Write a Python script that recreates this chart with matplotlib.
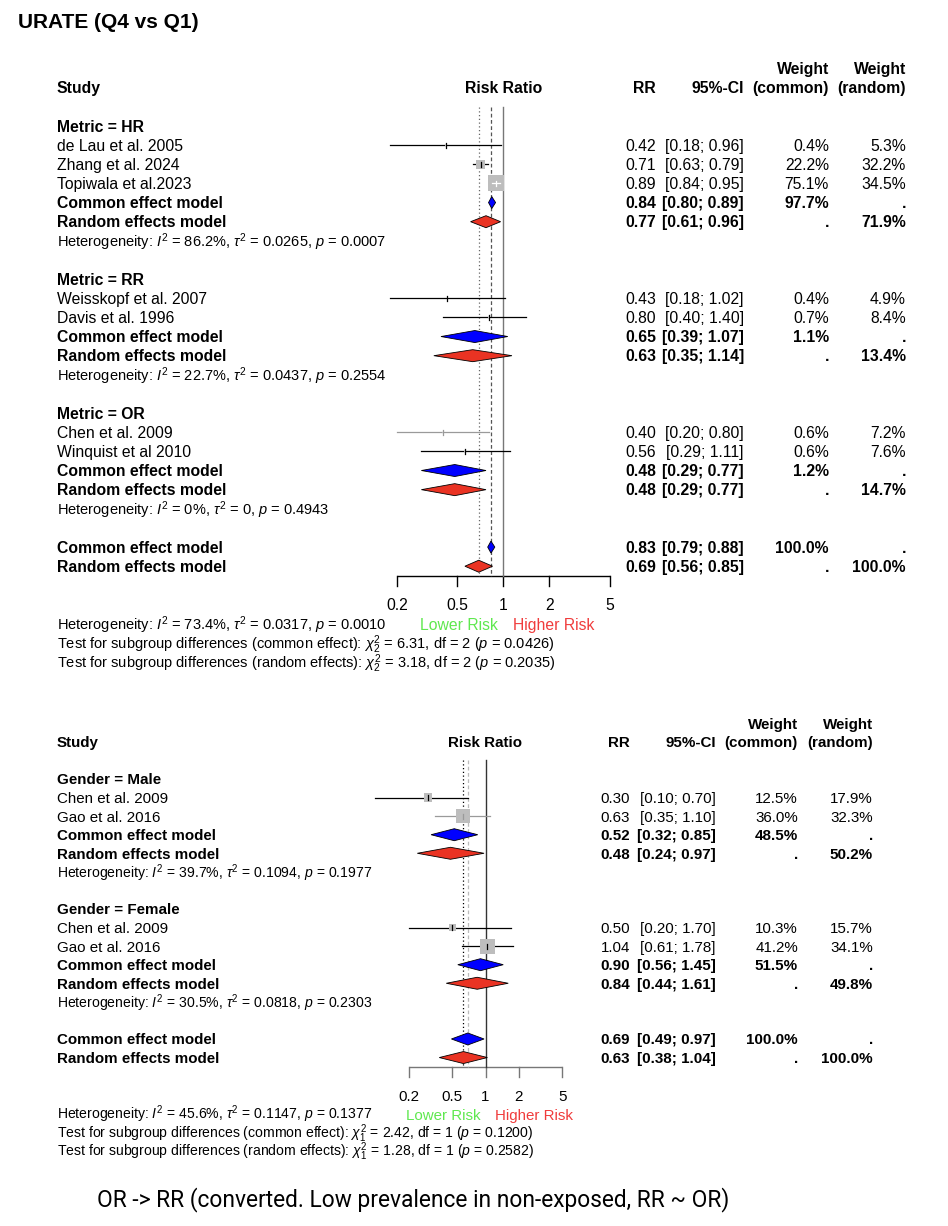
import matplotlib
matplotlib.use("Agg")
import matplotlib.pyplot as plt
import numpy as np
from matplotlib import font_manager as fm
from matplotlib.patches import Polygon, Rectangle

# ---------------- data: top panel (URATE Q4 vs Q1) ----------------
top_groups = ["Metric = HR", "Metric = RR", "Metric = OR"]
top_studies = [["de Lau et al. 2005", "Zhang et al. 2024", "Topiwala et al.2023"],
               ["Weisskopf et al. 2007", "Davis et al. 1996"],
               ["Chen et al. 2009", "Winquist et al 2010"]]
top_rr = [[0.42, 0.71, 0.89], [0.43, 0.80], [0.40, 0.56]]
top_lo = [[0.18, 0.63, 0.84], [0.18, 0.40], [0.20, 0.29]]
top_hi = [[0.96, 0.79, 0.95], [1.02, 1.40], [0.80, 1.11]]
top_wc = [[0.4, 22.2, 75.1], [0.4, 0.7], [0.6, 0.6]]
top_wr = [[5.3, 32.2, 34.5], [4.9, 8.4], [7.2, 7.6]]
top_ce_est = [0.84, 0.65, 0.48]
top_ce_lo = [0.80, 0.39, 0.29]
top_ce_hi = [0.89, 1.07, 0.77]
top_ce_w = [97.7, 1.1, 1.2]
top_re_est = [0.77, 0.63, 0.48]
top_re_lo = [0.61, 0.35, 0.29]
top_re_hi = [0.96, 1.14, 0.77]
top_re_w = [71.9, 13.4, 14.7]
top_het_i2 = ["86.2%", "22.7%", "0%"]
top_het_tau2 = ["0.0265", "0.0437", "0"]
top_het_p = ["0.0007", "0.2554", "0.4943"]
top_all_ce = [0.83, 0.79, 0.88]
top_all_re = [0.69, 0.56, 0.85]
top_all_het = ["73.4%", "0.0317", "0.0010"]
top_test_ce = ["6.31", "2", "0.0426"]
top_test_re = ["3.18", "2", "0.2035"]
top_line_colors = [["black", "black", "black"], ["black", "black"], ["#9a9a9a", "black"]]

# ---------------- data: bottom panel (by gender) ----------------
bot_groups = ["Gender = Male", "Gender = Female"]
bot_studies = [["Chen et al. 2009", "Gao et al. 2016"], ["Chen et al. 2009", "Gao et al. 2016"]]
bot_rr = [[0.30, 0.63], [0.50, 1.04]]
bot_lo = [[0.10, 0.35], [0.20, 0.61]]
bot_hi = [[0.70, 1.10], [1.70, 1.78]]
bot_wc = [[12.5, 36.0], [10.3, 41.2]]
bot_wr = [[17.9, 32.3], [15.7, 34.1]]
bot_ce_est = [0.52, 0.90]
bot_ce_lo = [0.32, 0.56]
bot_ce_hi = [0.85, 1.45]
bot_ce_w = [48.5, 51.5]
bot_re_est = [0.48, 0.84]
bot_re_lo = [0.24, 0.44]
bot_re_hi = [0.97, 1.61]
bot_re_w = [50.2, 49.8]
bot_het_i2 = ["39.7%", "30.5%"]
bot_het_tau2 = ["0.1094", "0.0818"]
bot_het_p = ["0.1977", "0.2303"]
bot_all_ce = [0.69, 0.49, 0.97]
bot_all_re = [0.63, 0.38, 1.04]
bot_all_het = ["45.6%", "0.1147", "0.1377"]
bot_test_ce = ["2.42", "1", "0.1200"]
bot_test_re = ["1.28", "1", "0.2582"]
bot_line_colors = [["black", "#9a9a9a"], ["black", "black"]]

tick_values = [0.2, 0.5, 1, 2, 5]
tick_labels = ["0.2", "0.5", "1", "2", "5"]

title_text = "URATE (Q4 vs Q1)"
footer_text = "OR -> RR (converted. Low prevalence in non-exposed, RR ~ OR)"

# ---------------- setup ----------------
W, H, DPI = 948, 1226, 100
plt.rcParams['font.family'] = ['Liberation Sans', 'DejaVu Sans']
plt.rcParams['mathtext.fontset'] = 'custom'
plt.rcParams['mathtext.rm'] = 'Liberation Sans'
plt.rcParams['mathtext.it'] = 'Liberation Sans:italic'
plt.rcParams['mathtext.bf'] = 'Liberation Sans:bold'

avail = {f.name for f in fm.fontManager.ttflist}
footer_family = 'Roboto' if 'Roboto' in avail else 'Liberation Sans'

fig = plt.figure(figsize=(W / DPI, H / DPI), dpi=DPI)
fig.patch.set_facecolor('white')
bg = fig.add_axes([0, 0, 1, 1])
bg.set_xlim(0, W)
bg.set_ylim(H, 0)
bg.axis('off')

SQ_COL = '#bdbdbd'
BLUE = '#0000ff'
RED = '#ea3323'


def put(x, y, s, fs, ha='left', bold=False, color='black', family=None):
    px = fs * DPI / 72.0
    kw = {}
    if family:
        kw['family'] = family
    bg.text(x, y + 0.36 * px, s, fontsize=fs, ha=ha, va='baseline',
            fontweight='bold' if bold else 'normal', color=color, **kw)


def forest(groups, studies, rr, lo, hi, wc, wr,
           ce_est, ce_lo, ce_hi, ce_w, re_est, re_lo, re_hi, re_w,
           het_i2, het_tau2, het_p, all_ce, all_re, all_het, test_ce, test_re,
           line_colors, cfg):
    ref_x, ppd, y0, step = cfg['ref_x'], cfg['ppd'], cfg['y0'], cfg['step']
    fs, hfs = cfg['fs'], cfg['hfs']
    cx = cfg['cols']

    def Y(k):
        return y0 + k * step

    rows = []
    k = 0
    for gi in range(len(groups)):
        rows.append(('group', k, gi))
        k += 1
        for si in range(len(studies[gi])):
            rows.append(('study', k, gi, si))
            k += 1
        rows.append(('ce', k, gi)); k += 1
        rows.append(('re', k, gi)); k += 1
        rows.append(('het', k, gi)); k += 1
        k += 1
    k_all_ce = k
    k_all_re = k + 1
    k_axis = k + 1.5
    k_het = k + 4

    xmin, xmax = tick_values[0], tick_values[-1]
    left_px = ref_x + ppd * np.log10(xmin)
    right_px = ref_x + ppd * np.log10(xmax)
    top_px = Y(-1)
    axis_px = Y(k_axis)
    ax = fig.add_axes([left_px / W, 1 - axis_px / H, (right_px - left_px) / W,
                       (axis_px - top_px) / H])
    ax.set_xscale('log')
    ax.set_xlim(xmin, xmax)
    ax.set_ylim(axis_px, top_px)
    ax.axis('off')

    def fac(px):
        return 10 ** (px / ppd)

    # x axis: line, ticks, labels
    ax.plot([xmin, xmax], [axis_px, axis_px], color=cfg['axis_color'], lw=1.0,
            clip_on=False, zorder=1, solid_capstyle='butt')
    for t, lab in zip(tick_values, tick_labels):
        ax.plot([t, t], [axis_px, axis_px + 10], color=cfg['axis_color'], lw=1.0,
                clip_on=False, zorder=1)
        ax.text(t, axis_px + 30, lab, fontsize=fs, ha='center', va='center',
                clip_on=False)

    ax.plot([1, 1], [top_px, axis_px], color=cfg['ref_color'], lw=1.0, clip_on=False, zorder=1)
    ax.plot([all_re[0]] * 2, [top_px, axis_px], color=cfg['re_line'], lw=0.9,
            ls=(0, (1, 2)), clip_on=False, zorder=1)
    ax.plot([all_ce[0]] * 2, [top_px, axis_px], color=cfg['ce_line'], lw=0.9,
            ls=(0, (3, 2)), clip_on=False, zorder=1)

    def diamond(est, l, h, y, col):
        hh = cfg['dh']
        poly = Polygon([(l, y), (est, y - hh), (h, y), (est, y + hh)], closed=True,
                       facecolor=col, edgecolor='black', lw=0.6, clip_on=False, zorder=4)
        ax.add_patch(poly)

    def fmt_ci(l, h):
        return f"[{l:.2f}; {h:.2f}]"

    put(cx[0], Y(-2), "Study", fs, bold=True)
    put(ref_x, Y(-2), "Risk Ratio", fs, ha='center', bold=True)
    put(cx[1], Y(-2), "RR", fs, ha='right', bold=True)
    put(cx[2], Y(-2), "95%-CI", fs, ha='right', bold=True)
    put(cx[3], Y(-3), "Weight", fs, ha='right', bold=True)
    put(cx[3], Y(-2), "(common)", fs, ha='right', bold=True)
    put(cx[4], Y(-3), "Weight", fs, ha='right', bold=True)
    put(cx[4], Y(-2), "(random)", fs, ha='right', bold=True)

    for r in rows:
        kind, kk, gi = r[0], r[1], r[2]
        y = Y(kk)
        if kind == 'group':
            put(cx[0], y, groups[gi], fs, bold=True)
        elif kind == 'study':
            si = r[3]
            v, l, h = rr[gi][si], lo[gi][si], hi[gi][si]
            side = cfg['sq_scale'] * np.sqrt(wc[gi][si])
            lc = line_colors[gi][si]
            l_px = ref_x + ppd * np.log10(l)
            h_px = ref_x + ppd * np.log10(h)
            v_px = ref_x + ppd * np.log10(v)
            inside = (l_px >= v_px - side / 2) and (h_px <= v_px + side / 2)
            ax.plot([l, h], [y, y], color=lc, lw=0.9, clip_on=False, zorder=2)
            ax.add_patch(Rectangle((v / fac(side / 2), y - side / 2),
                                   v * fac(side / 2) - v / fac(side / 2),
                                   side, facecolor=SQ_COL, edgecolor='none', clip_on=False, zorder=3))
            ic = 'white' if inside else lc
            if inside:
                ax.plot([l, h], [y, y], color='white', lw=0.9, clip_on=False, zorder=3.5)
            ax.plot([v, v], [y - 2.5, y + 2.5], color=ic, lw=0.9, clip_on=False, zorder=3.6)
            put(cx[0], y, studies[gi][si], fs)
            put(cx[1], y, f"{v:.2f}", fs, ha='right')
            put(cx[2], y, fmt_ci(l, h), fs, ha='right')
            put(cx[3], y, f"{wc[gi][si]:.1f}%", fs, ha='right')
            put(cx[4], y, f"{wr[gi][si]:.1f}%", fs, ha='right')
        elif kind == 'ce':
            diamond(ce_est[gi], ce_lo[gi], ce_hi[gi], y, BLUE)
            put(cx[0], y, "Common effect model", fs, bold=True)
            put(cx[1], y, f"{ce_est[gi]:.2f}", fs, ha='right', bold=True)
            put(cx[2], y, fmt_ci(ce_lo[gi], ce_hi[gi]), fs, ha='right', bold=True)
            put(cx[3], y, f"{ce_w[gi]:.1f}%", fs, ha='right', bold=True)
            put(cx[4], y, ".", fs, ha='right', bold=True)
        elif kind == 're':
            diamond(re_est[gi], re_lo[gi], re_hi[gi], y, RED)
            put(cx[0], y, "Random effects model", fs, bold=True)
            put(cx[1], y, f"{re_est[gi]:.2f}", fs, ha='right', bold=True)
            put(cx[2], y, fmt_ci(re_lo[gi], re_hi[gi]), fs, ha='right', bold=True)
            put(cx[3], y, ".", fs, ha='right', bold=True)
            put(cx[4], y, f"{re_w[gi]:.1f}%", fs, ha='right', bold=True)
        elif kind == 'het':
            s = (r"Heterogeneity: $I^2$ = " + het_i2[gi] + r", $\tau^2$ = " + het_tau2[gi]
                 + r", $p$ = " + het_p[gi])
            put(cx[0], y + 1, s, hfs)

    y = Y(k_all_ce)
    diamond(all_ce[0], all_ce[1], all_ce[2], y, BLUE)
    put(cx[0], y, "Common effect model", fs, bold=True)
    put(cx[1], y, f"{all_ce[0]:.2f}", fs, ha='right', bold=True)
    put(cx[2], y, fmt_ci(all_ce[1], all_ce[2]), fs, ha='right', bold=True)
    put(cx[3], y, "100.0%", fs, ha='right', bold=True)
    put(cx[4], y, ".", fs, ha='right', bold=True)
    y = Y(k_all_re)
    diamond(all_re[0], all_re[1], all_re[2], y, RED)
    put(cx[0], y, "Random effects model", fs, bold=True)
    put(cx[1], y, f"{all_re[0]:.2f}", fs, ha='right', bold=True)
    put(cx[2], y, fmt_ci(all_re[1], all_re[2]), fs, ha='right', bold=True)
    put(cx[3], y, ".", fs, ha='right', bold=True)
    put(cx[4], y, "100.0%", fs, ha='right', bold=True)

    y = Y(k_het)
    s = (r"Heterogeneity: $I^2$ = " + all_het[0] + r", $\tau^2$ = " + all_het[1]
         + r", $p$ = " + all_het[2])
    put(cx[0], y + 1, s, hfs)
    put(ref_x - 5, y + 1, "Lower Risk", fs, ha='right', color='#5fe84f')
    put(ref_x + 10, y + 1, "Higher Risk", fs, ha='left', color='#f03c3c')
    s = (r"Test for subgroup differences (common effect): $\chi^2_{" + test_ce[1] + r"}$ = "
         + test_ce[0] + ", df = " + test_ce[1] + r" ($p$ = " + test_ce[2] + ")")
    put(cx[0], Y(k_het + 1) + 1, s, hfs)
    s = (r"Test for subgroup differences (random effects): $\chi^2_{" + test_re[1] + r"}$ = "
         + test_re[0] + ", df = " + test_re[1] + r" ($p$ = " + test_re[2] + ")")
    put(cx[0], Y(k_het + 2) + 1, s, hfs)


top_cfg = dict(ref_x=503.3, ppd=152.4, y0=126.0, step=19.14, fs=11.3, hfs=10.55,
               cols=[57, 656, 744, 829, 906], sq_scale=1.85, dh=6.0,
               axis_color='black', ref_color='#777777', re_line='#666666', ce_line='#555555')
bot_cfg = dict(ref_x=485.5, ppd=110.0, y0=779.0, step=18.57, fs=10.9, hfs=10.05,
               cols=[57, 630, 716, 798, 873], sq_scale=2.35, dh=6.0,
               axis_color='#777777', ref_color='#333333', re_line='black', ce_line='#bbbbbb')

forest(top_groups, top_studies, top_rr, top_lo, top_hi, top_wc, top_wr,
       top_ce_est, top_ce_lo, top_ce_hi, top_ce_w, top_re_est, top_re_lo, top_re_hi, top_re_w,
       top_het_i2, top_het_tau2, top_het_p, top_all_ce, top_all_re, top_all_het,
       top_test_ce, top_test_re, top_line_colors, top_cfg)
forest(bot_groups, bot_studies, bot_rr, bot_lo, bot_hi, bot_wc, bot_wr,
       bot_ce_est, bot_ce_lo, bot_ce_hi, bot_ce_w, bot_re_est, bot_re_lo, bot_re_hi, bot_re_w,
       bot_het_i2, bot_het_tau2, bot_het_p, bot_all_ce, bot_all_re, bot_all_het,
       bot_test_ce, bot_test_re, bot_line_colors, bot_cfg)

put(18, 20, title_text, 15, bold=True)
put(97, 1198, footer_text, 16.4, family=footer_family)

fig.savefig("out.png", dpi=DPI, facecolor='white')
